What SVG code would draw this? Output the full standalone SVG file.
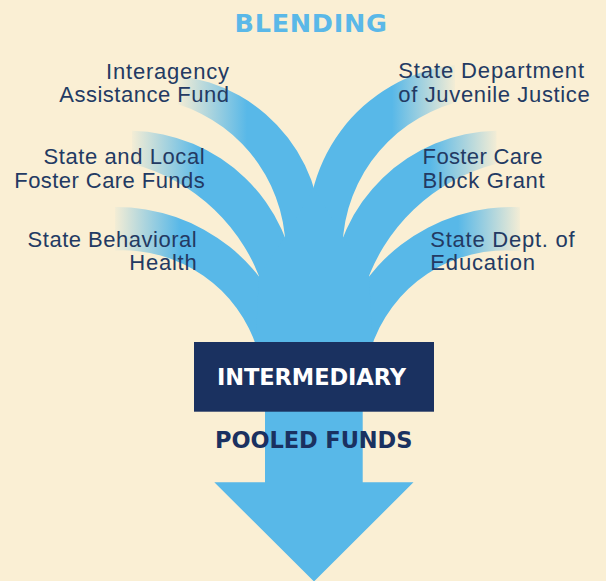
<svg xmlns="http://www.w3.org/2000/svg" width="606" height="581" viewBox="0 0 606 581">
<defs>
<style>
.lbl{font-family:"Liberation Sans",Arial,sans-serif;font-size:22px;fill:#233a63}
.hd{font-family:"DejaVu Sans","Liberation Sans",sans-serif;font-weight:bold;font-size:22.5px}
.solid{fill:#58b8e8}
</style>
<linearGradient id="gL1" gradientUnits="userSpaceOnUse" x1="178" y1="0" x2="247" y2="0"><stop offset="0" stop-color="#58b8e8" stop-opacity="0.04"/><stop offset="1" stop-color="#58b8e8"/></linearGradient>
<linearGradient id="gL2" gradientUnits="userSpaceOnUse" x1="132" y1="0" x2="200" y2="0"><stop offset="0" stop-color="#58b8e8" stop-opacity="0.04"/><stop offset="1" stop-color="#58b8e8"/></linearGradient>
<linearGradient id="gL3" gradientUnits="userSpaceOnUse" x1="115" y1="0" x2="180" y2="0"><stop offset="0" stop-color="#58b8e8" stop-opacity="0.04"/><stop offset="1" stop-color="#58b8e8"/></linearGradient>
<linearGradient id="gR1" gradientUnits="userSpaceOnUse" x1="455" y1="0" x2="392" y2="0"><stop offset="0" stop-color="#58b8e8" stop-opacity="0.04"/><stop offset="1" stop-color="#58b8e8"/></linearGradient>
<linearGradient id="gR2" gradientUnits="userSpaceOnUse" x1="497" y1="0" x2="430" y2="0"><stop offset="0" stop-color="#58b8e8" stop-opacity="0.04"/><stop offset="1" stop-color="#58b8e8"/></linearGradient>
<linearGradient id="gR3" gradientUnits="userSpaceOnUse" x1="520" y1="0" x2="458" y2="0"><stop offset="0" stop-color="#58b8e8" stop-opacity="0.04"/><stop offset="1" stop-color="#58b8e8"/></linearGradient>
</defs>
<rect width="606" height="581" fill="#faefd4"/>

<g id="connectors">
  <path id="flow-interagency" fill="url(#gL1)" d="M178,75.8 A161.2,161.2 0 0 1 319.5,260 L285.3,260 A153.9,153.9 0 0 0 178,104.3 Z"/>
  <path id="flow-state-local" fill="url(#gL2)" d="M132,130.75 A168.8,168.8 0 0 1 296.6,290 L263.9,290 A186.7,186.7 0 0 0 132,163.8 Z"/>
  <path id="flow-behavioral" fill="url(#gL3)" d="M115,207 A182,182 0 0 1 293.8,350 L257.5,350 A140.6,140.6 0 0 0 115,250.6 Z"/>
  <path id="flow-juvenile" fill="url(#gR1)" d="M455,65 A166.1,166.1 0 0 0 310.7,260 L342.7,260 A153.9,153.9 0 0 1 455,102.8 Z"/>
  <path id="flow-block-grant" fill="url(#gR2)" d="M496.5,130.7 A168.8,168.8 0 0 0 331.4,290 L364.1,290 A186.7,186.7 0 0 1 496.5,163.7 Z"/>
  <path id="flow-education" fill="url(#gR3)" d="M520,207.2 A182,182 0 0 0 334.2,350 L370.5,350 A140.6,140.6 0 0 1 520,251.2 Z"/>
  <path id="trunk" class="solid" d="M259,276 L285,237 L314,188 L343,237 L369,276 L372.5,345 L255.5,345 Z"/>
  <path id="pooled-arrow" class="solid" d="M265,340 L362.7,340 L362.7,482.3 L413.5,482.3 L314,581.5 L214.3,482.3 L265,482.3 Z"/>
</g>

<g id="title-blending">
  <text class="hd" x="234.5" y="32.3" fill="#5ab8e8" textLength="152.5" lengthAdjust="spacing" style="font-size:25.5px">BLENDING</text>
</g>

<g id="src-interagency">
  <text class="lbl" x="106" y="79" textLength="123" lengthAdjust="spacing">Interagency</text>
  <text class="lbl" x="59.3" y="101.7" textLength="169.7" lengthAdjust="spacing">Assistance Fund</text>
</g>
<g id="src-state-local">
  <text class="lbl" x="43.6" y="164.3" textLength="161" lengthAdjust="spacing">State and Local</text>
  <text class="lbl" x="14.3" y="187.7" textLength="190.4" lengthAdjust="spacing">Foster Care Funds</text>
</g>
<g id="src-behavioral">
  <text class="lbl" x="27.6" y="247.3" textLength="169" lengthAdjust="spacing">State Behavioral</text>
  <text class="lbl" x="129.3" y="270.4" textLength="67.4" lengthAdjust="spacing">Health</text>
</g>
<g id="src-juvenile">
  <text class="lbl" x="398.3" y="78.3" textLength="185.7" lengthAdjust="spacing">State Department</text>
  <text class="lbl" x="398.3" y="101.7" textLength="191.4" lengthAdjust="spacing">of Juvenile Justice</text>
</g>
<g id="src-block-grant">
  <text class="lbl" x="422.6" y="164.3" textLength="119.8" lengthAdjust="spacing">Foster Care</text>
  <text class="lbl" x="422.6" y="187.7" textLength="122.1" lengthAdjust="spacing">Block Grant</text>
</g>
<g id="src-education">
  <text class="lbl" x="430.3" y="247.3" textLength="144.4" lengthAdjust="spacing">State Dept. of</text>
  <text class="lbl" x="430.3" y="270.4" textLength="104.7" lengthAdjust="spacing">Education</text>
</g>

<g id="intermediary">
  <rect x="194" y="342" width="240" height="69.7" fill="#1a3160"/>
  <text class="hd" x="217" y="384.7" fill="#ffffff" textLength="189" lengthAdjust="spacing">INTERMEDIARY</text>
</g>
<g id="pooled-funds">
  <text class="hd" x="215" y="448.3" fill="#1a3160" textLength="197.4" lengthAdjust="spacing">POOLED FUNDS</text>
</g>
</svg>
